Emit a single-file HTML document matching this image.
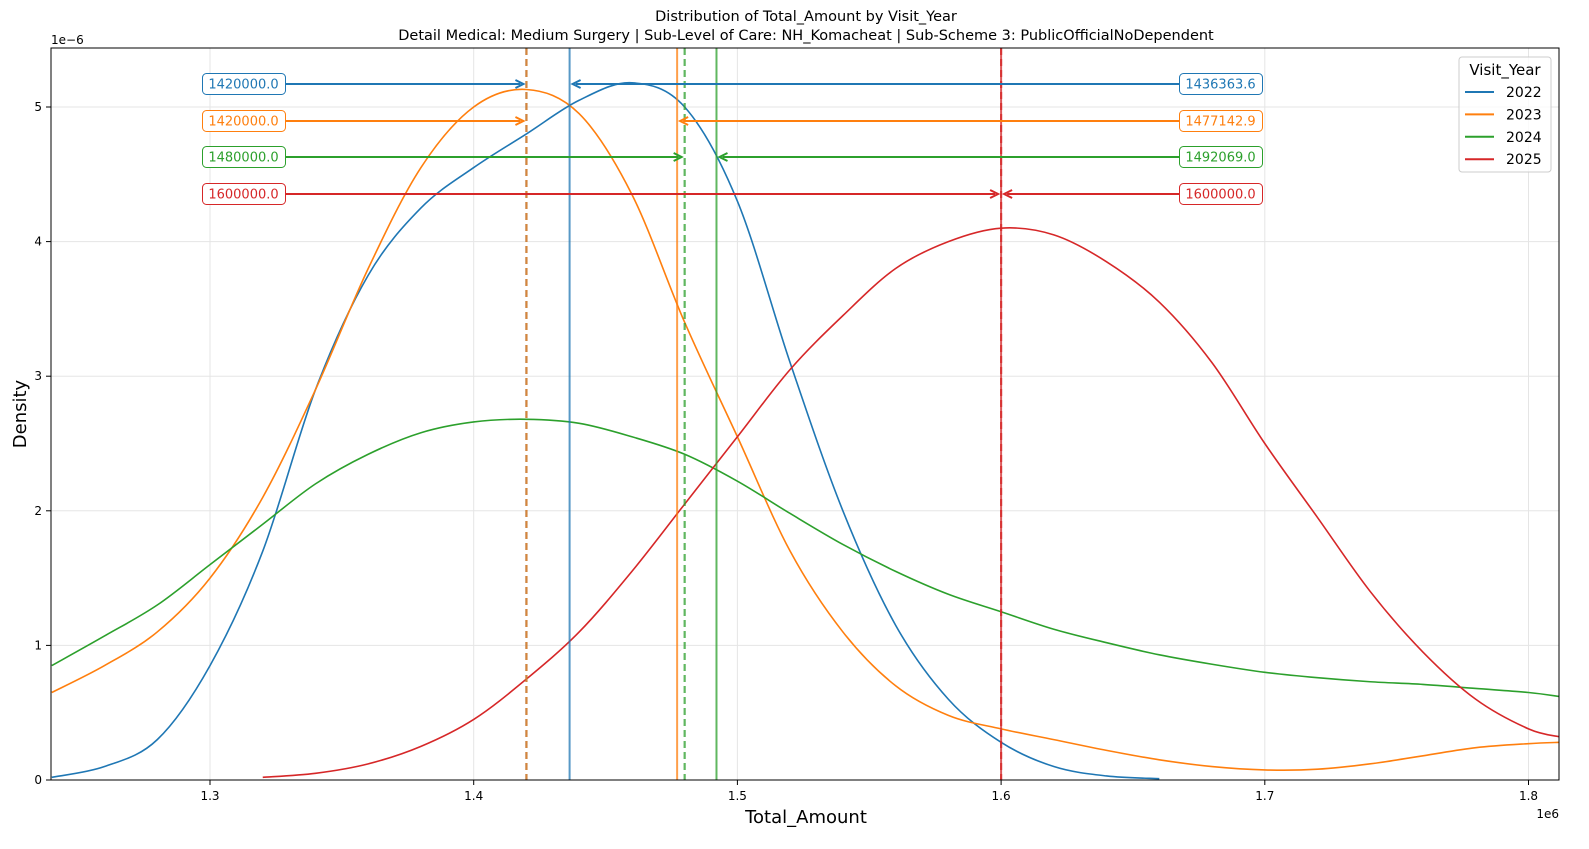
<!DOCTYPE html>
<html><head><meta charset="utf-8"><style>
html,body{margin:0;padding:0;background:#fff;overflow:hidden;width:1589px;height:849px}
svg{display:block}
</style></head><body>
<svg id="chart" width="1589" height="849" xmlns="http://www.w3.org/2000/svg" font-family="DejaVu Sans, Liberation Sans, sans-serif">
<rect width="1589" height="849" fill="#fff"/>
<text x="806" y="21" font-size="14.5" text-anchor="middle">Distribution of Total_Amount by Visit_Year</text>
<text x="806" y="40" font-size="14.5" text-anchor="middle">Detail Medical: Medium Surgery | Sub-Level of Care: NH_Komacheat | Sub-Scheme 3: PublicOfficialNoDependent</text>
<g id="grid"></g>
<g id="plot"></g>
<rect x="51" y="48" width="1508" height="732" fill="none" stroke="#000" stroke-width="1"/>
<g id="axes"></g>
<text x="806" y="823" font-size="18" text-anchor="middle">Total_Amount</text>
<text transform="translate(26,414) rotate(-90)" font-size="18" text-anchor="middle">Density</text>
<text x="51" y="44" font-size="12">1e−6</text>
<text x="1559" y="818" font-size="12" text-anchor="end">1e6</text>
<g>
<rect x="1459" y="57" width="92" height="115" rx="3" fill="#fff" fill-opacity="0.8" stroke="#ccc"/>
<text x="1505" y="75" font-size="15" text-anchor="middle">Visit_Year</text>
<g id="legend-entries"></g>
</g>
</svg>
<script>
const xVals=[1.24,1.26,1.28,1.30,1.32,1.34,1.36,1.38,1.40,1.42,1.44,1.46,1.48,1.50,1.52,1.54,1.56,1.58,1.60,1.62,1.64,1.66,1.68,1.70,1.72,1.74,1.76,1.78,1.80,1.812];
const years=["2022","2023","2024","2025"];
const colors=["#1f77b4","#ff7f0e","#2ca02c","#d62728"];
const d2022=[0.02,0.1,0.3,0.85,1.7,2.9,3.75,4.25,4.55,4.8,5.05,5.18,5.0,4.3,3.1,2.0,1.15,0.6,0.28,0.1,0.03,0.01,null,null,null,null,null,null,null,null];
const d2023=[0.65,0.85,1.1,1.5,2.1,2.9,3.8,4.55,5.0,5.13,4.95,4.35,3.4,2.55,1.7,1.1,0.7,0.48,0.38,0.3,0.22,0.15,0.1,0.075,0.08,0.12,0.18,0.24,0.27,0.28];
const d2024=[0.85,1.07,1.3,1.6,1.9,2.2,2.42,2.58,2.66,2.68,2.65,2.55,2.42,2.22,1.98,1.75,1.55,1.38,1.25,1.12,1.02,0.93,0.86,0.8,0.76,0.73,0.71,0.68,0.65,0.62];
const d2025=[null,null,null,null,0.02,0.05,0.12,0.25,0.45,0.75,1.1,1.55,2.05,2.55,3.05,3.45,3.8,4.0,4.1,4.05,3.85,3.55,3.1,2.5,1.95,1.4,0.95,0.6,0.38,0.32];
const means=[1436363.6,1477142.9,1492069.0,1600000.0];
const medians=[1420000.0,1420000.0,1480000.0,1600000.0];
const xTicks=[1.3,1.4,1.5,1.6,1.7,1.8];
const yTicks=[0,1,2,3,4,5];
const series=[d2022,d2023,d2024,d2025];

const X=v=>210+(v-1.3)*2637;
const Y=v=>780-v*134.6;
const NS="http://www.w3.org/2000/svg";
function mk(tag,attrs,parent){const e=document.createElementNS(NS,tag);for(const k in attrs)e.setAttribute(k,attrs[k]);parent.appendChild(e);return e;}
const grid=document.getElementById('grid'),plot=document.getElementById('plot'),axes=document.getElementById('axes');
xTicks.forEach(t=>{const x=X(t);
 let g=mk('line',{x1:x,x2:x,y1:48,y2:780,stroke:'#e5e5e5'},grid);
 
 
 let l=mk('line',{x1:x,x2:x,y1:780,y2:785,stroke:'#000'},axes);
 
 
 let tx=mk('text',{x:x,y:800,'font-size':12,'text-anchor':'middle'},axes);tx.textContent=t.toFixed(1);
 
 });
yTicks.forEach(t=>{const y=Y(t);
 let g=mk('line',{x1:51,x2:1559,y1:y,y2:y,stroke:'#e5e5e5'},grid);
 
 
 let l=mk('line',{x1:46,x2:51,y1:y,y2:y,stroke:'#000'},axes);
 
 
 let tx=mk('text',{x:42,y:y+4,'font-size':12,'text-anchor':'end'},axes);tx.textContent=t;
 
 });
const clip=mk('clipPath',{id:'pc'},document.getElementById('chart'));mk('rect',{x:51,y:48,width:1508,height:732},clip);
function smooth(pts){let d=`M${pts[0][0]},${pts[0][1]}`;for(let i=0;i<pts.length-1;i++){const p0=pts[i-1]||pts[i],p1=pts[i],p2=pts[i+1],p3=pts[i+2]||p2;
 d+=` C${p1[0]+(p2[0]-p0[0])/6},${p1[1]+(p2[1]-p0[1])/6} ${p2[0]-(p3[0]-p1[0])/6},${p2[1]-(p3[1]-p1[1])/6} ${p2[0]},${p2[1]}`;}return d;}
series.forEach((s,i)=>{const pts=[];s.forEach((v,j)=>{if(v!==null)pts.push([X(xVals[j]),Y(v)]);});
 const p=mk('path',{d:smooth(pts),fill:'none',stroke:colors[i],'stroke-width':1.6,'clip-path':'url(#pc)'},plot);
 
 });
means.forEach((m,i)=>{const x=X(m/1e6);
 const l=mk('line',{x1:x,x2:x,y1:48,y2:780,stroke:colors[i],'stroke-width':2,opacity:0.75},plot);
 
 });
medians.forEach((m,i)=>{const x=X(m/1e6);
 const l=mk('line',{x1:x,x2:x,y1:48,y2:780,stroke:colors[i],'stroke-width':2.2,'stroke-dasharray':'7,4',opacity:0.75},plot);
 
 });
const rowY=[84,121,157,194];
function arrow(x1,x2,y,c,name){const dir=Math.sign(x2-x1);
 const l=mk('line',{x1:x1,x2:x2-dir*3,y1:y,y2:y,stroke:c,'stroke-width':2},plot);
 
 
 mk('path',{d:`M${x2-dir*8},${y-4} L${x2},${y} L${x2-dir*8},${y+4}`,fill:'none',stroke:c,'stroke-width':2},plot);}
function box(cx,y,txt,c,name){const g=mk('g',{},plot);
 
 
 mk('rect',{x:cx-41,y:y-10.5,width:83,height:21,rx:4,fill:'#fff',stroke:c},g);
 const t=mk('text',{x:cx,y:y+4.5,'font-size':13,'text-anchor':'middle',fill:c},g);t.textContent=txt;}
years.forEach((yr,i)=>{const y=rowY[i];
 arrow(285,X(medians[i]/1e6)-3,y,colors[i],'median-arrow-'+yr);
 box(243.5,y,medians[i].toFixed(1),colors[i],'median-label-'+yr);
 arrow(1180,X(means[i]/1e6)+3,y,colors[i],'mean-arrow-'+yr);
 box(1220.5,y,means[i].toFixed(1),colors[i],'mean-label-'+yr);});
const le=document.getElementById('legend-entries');
years.forEach((yr,i)=>{const y=92+i*22.4;
 const l=mk('line',{x1:1465,x2:1494,y1:y,y2:y,stroke:colors[i],'stroke-width':2},le);
 
 
 const t=mk('text',{x:1506,y:y+5,'font-size':14},le);t.textContent=yr;
 
 });
</script>
</body></html>
